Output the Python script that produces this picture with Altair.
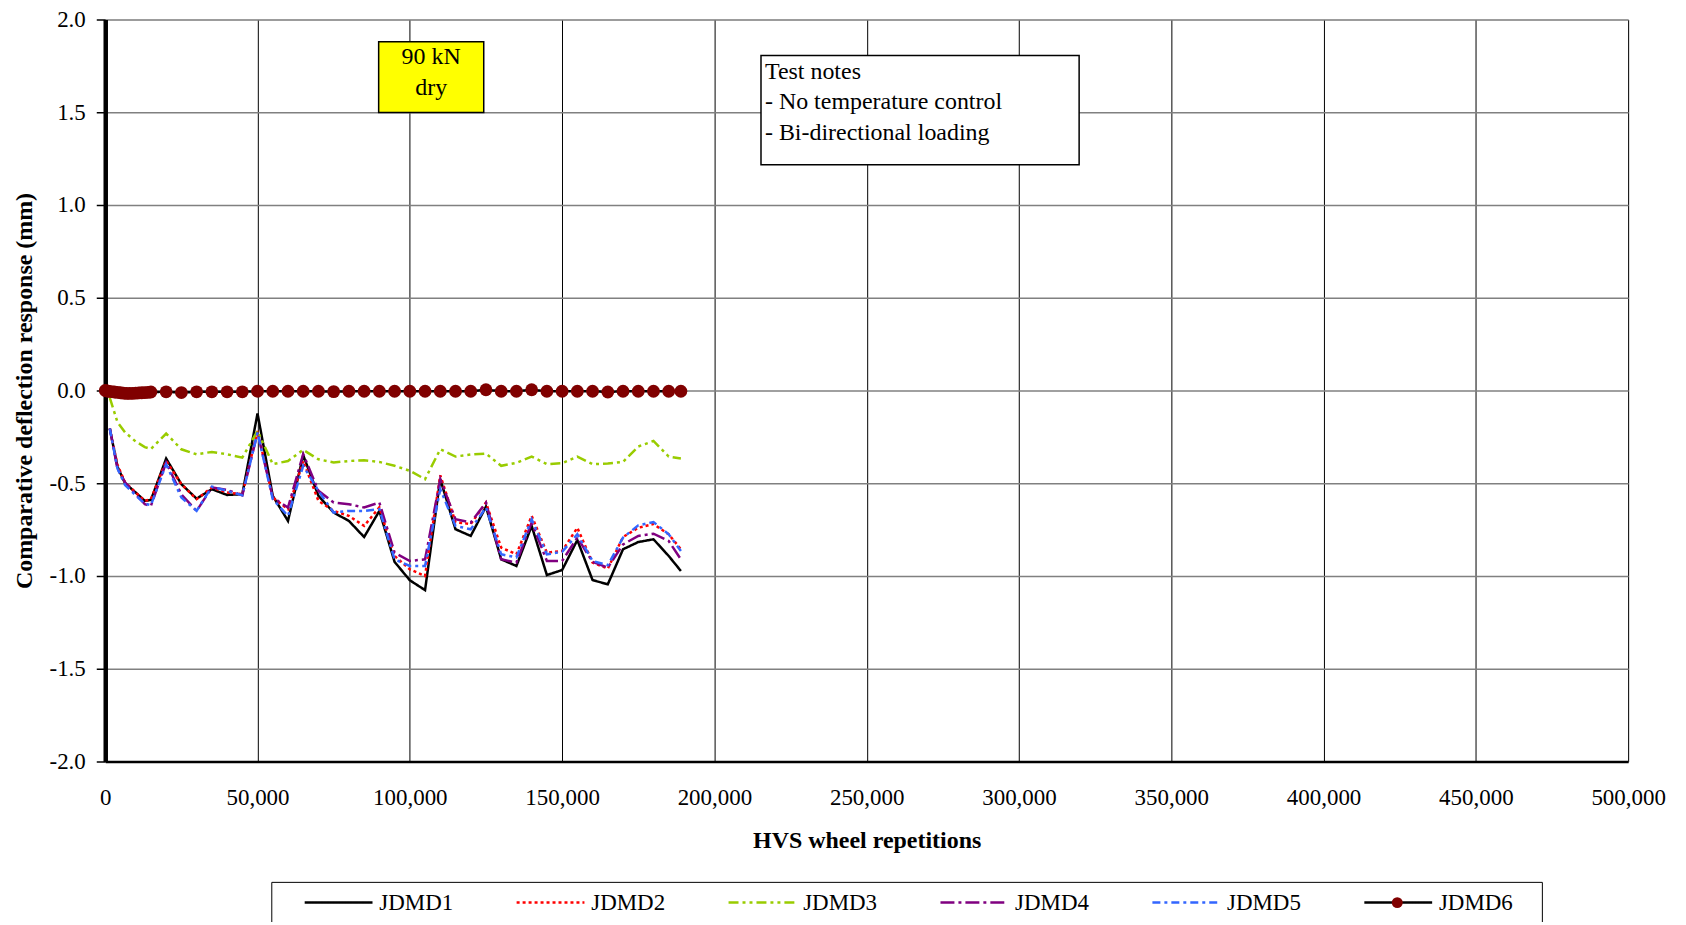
import altair as alt
import pandas as pd

# ---------------- data ----------------
series_names = ["JDMD1", "JDMD2", "JDMD3", "JDMD4", "JDMD5", "JDMD6"]

x_reps = [1500, 4000, 6500, 10000, 13000, 15000, 20000, 25000, 30000, 35000,
          40000, 45000, 50000, 55000, 60000, 65000, 70000, 75000, 80000, 85000,
          90000, 95000, 100000, 105000, 110000, 115000, 120000, 125000, 130000, 135000,
          140000, 145000, 150000, 155000, 160000, 165000, 170000, 175000, 180000, 185000,
          189000]

jdmd1 = [-0.205, -0.41, -0.50, -0.55, -0.595, -0.59, -0.367, -0.505, -0.583, -0.532,
         -0.563, -0.559, -0.124, -0.568, -0.703, -0.349, -0.568, -0.658, -0.703, -0.79,
         -0.649, -0.924, -1.023, -1.076, -0.478, -0.748, -0.784, -0.626, -0.910, -0.946,
         -0.730, -0.995, -0.968, -0.806, -1.022, -1.045, -0.856, -0.817, -0.802, -0.892,
         -0.973]

jdmd2 = [-0.205, -0.40, -0.495, -0.55, -0.595, -0.586, -0.379, -0.505, -0.586, -0.523,
         -0.55, -0.559, -0.218, -0.577, -0.64, -0.38, -0.595, -0.649, -0.676, -0.73,
         -0.63, -0.892, -0.964, -1.0, -0.457, -0.71, -0.72, -0.604, -0.847, -0.883,
         -0.676, -0.874, -0.865, -0.74, -0.928, -0.96, -0.79, -0.74, -0.72, -0.775,
         -0.856]

jdmd3 = [-0.04, -0.17, -0.225, -0.275, -0.305, -0.315, -0.232, -0.317, -0.344, -0.331,
         -0.344, -0.362, -0.218, -0.397, -0.38, -0.32, -0.371, -0.388, -0.38, -0.376,
         -0.385, -0.406, -0.433, -0.478, -0.317, -0.356, -0.345, -0.34, -0.406, -0.39,
         -0.356, -0.397, -0.392, -0.356, -0.397, -0.394, -0.385, -0.302, -0.272, -0.356,
         -0.367]

jdmd4 = [-0.205, -0.42, -0.495, -0.56, -0.613, -0.622, -0.388, -0.56, -0.649, -0.523,
         -0.536, -0.565, -0.227, -0.577, -0.631, -0.343, -0.541, -0.604, -0.613, -0.631,
         -0.604, -0.874, -0.919, -0.91, -0.478, -0.694, -0.712, -0.604, -0.91, -0.928,
         -0.712, -0.919, -0.919, -0.793, -0.924, -0.955, -0.83, -0.784, -0.772, -0.811,
         -0.91]

jdmd5 = [-0.205, -0.42, -0.51, -0.565, -0.61, -0.618, -0.397, -0.577, -0.649, -0.518,
         -0.541, -0.565, -0.227, -0.586, -0.676, -0.406, -0.541, -0.658, -0.649, -0.649,
         -0.64, -0.91, -0.946, -0.946, -0.532, -0.73, -0.748, -0.631, -0.883, -0.9,
         -0.694, -0.883, -0.87, -0.775, -0.919, -0.942, -0.793, -0.727, -0.709, -0.775,
         -0.865]

x_jdmd6 = [0, 500, 1000, 2000, 3000, 4000, 5000, 6000, 7000, 8000, 9000, 10000,
           11000, 12000, 13000, 14000, 15000, 20000, 25000, 30000, 35000, 40000, 45000,
           50000, 55000, 60000, 65000, 70000, 75000, 80000, 85000, 90000, 95000, 100000,
           105000, 110000, 115000, 120000, 125000, 130000, 135000, 140000, 145000, 150000,
           155000, 160000, 165000, 170000, 175000, 180000, 185000, 189000]
jdmd6 = [0.0, -0.002, -0.004, -0.006, -0.008, -0.01, -0.012, -0.014, -0.016, -0.016,
         -0.015, -0.014, -0.013, -0.012, -0.011, -0.01, -0.008, -0.007, -0.011, -0.007,
         -0.007, -0.007, -0.007, -0.004, -0.004, -0.004, -0.004, -0.004, -0.006, -0.004,
         -0.004, -0.004, -0.004, -0.004, -0.004, -0.004, -0.004, -0.004, 0.004, -0.004,
         -0.004, 0.004, -0.004, -0.004, -0.004, -0.004, -0.008, -0.004, -0.004, -0.004,
         -0.004, -0.004]

x_ticks = [0, 50000, 100000, 150000, 200000, 250000, 300000, 350000, 400000, 450000, 500000]
y_ticks = [-2.0, -1.5, -1.0, -0.5, 0.0, 0.5, 1.0, 1.5, 2.0]

# annotation boxes (data units)
load_box_x, load_box_x2 = [89770], [124270]
load_box_y, load_box_y2 = [1.880], [1.498]
notes_box_x, notes_box_x2 = [215300], [319750]
notes_box_y, notes_box_y2 = [1.806], [1.217]

load_text = ["90 kN", "dry"]
load_text_x = [107000, 107000]
load_text_y = [1.797, 1.631]

notes_text = ["Test notes", "- No temperature control", "- Bi-directional loading"]
notes_x = [216600, 216600, 216600]
notes_y = [1.717, 1.555, 1.389]

# ---------------- styling ----------------
colors = ["#000000", "#ff0000", "#99cc00", "#800080", "#3366ff", "#000000"]
dashes = [[1, 0], [3, 3], [10, 4, 3, 4, 3, 4], [14, 4, 3, 4], [8, 4, 3, 4], [1, 0]]
FONT = "Liberation Serif"

# ---------------- tables ----------------
rows = []
for name, vals in zip(series_names[:5], [jdmd1, jdmd2, jdmd3, jdmd4, jdmd5]):
    for xv, yv in zip(x_reps, vals):
        rows.append({"series": name, "x": xv, "y": yv})
for xv, yv in zip(x_jdmd6, jdmd6):
    rows.append({"series": "JDMD6", "x": xv, "y": yv})
df = pd.DataFrame(rows)

df6 = pd.DataFrame({"x": x_jdmd6, "y": jdmd6, "marker": ["JDMD6"] * len(x_jdmd6)})

load_box = pd.DataFrame({"x": load_box_x, "x2": load_box_x2, "y": load_box_y, "y2": load_box_y2})
notes_box = pd.DataFrame({"x": notes_box_x, "x2": notes_box_x2, "y": notes_box_y, "y2": notes_box_y2})
load_df = pd.DataFrame({"x": load_text_x, "y": load_text_y, "t": load_text})
notes_df = pd.DataFrame({"x": notes_x, "y": notes_y, "t": notes_text})

xscale = alt.Scale(domain=[0, 500000], nice=False, zero=False)
yscale = alt.Scale(domain=[-2, 2], nice=False)

x_axis = alt.Axis(
    values=x_ticks, labelExpr="format(datum.value, ',.0f')",
    grid=True, gridColor="#000000", gridWidth=1,
    ticks=False, domainColor="#000000", domainWidth=2.5,
    labelFont=FONT, labelFontSize=23, labelColor="#000000", labelPadding=25,
    labelFlush=False, labelOverlap=False,
    title="HVS wheel repetitions", titleFont=FONT, titleFontSize=24,
    titleFontWeight="bold", titleColor="#000000", titlePadding=19,
)
y_axis = alt.Axis(
    values=y_ticks, grid=True, gridColor="#808080", gridWidth=1.5,
    ticks=True, tickSize=9, tickColor="#000000", tickWidth=1.5,
    domainColor="#000000", domainWidth=4.5,
    labelExpr="replace(format(datum.value, '.1f'), '\u2212', '-')",
    labelFont=FONT, labelFontSize=23, labelColor="#000000", labelPadding=11,
    labelFlush=False, labelOverlap=False,
    title="Comparative deflection response (mm)", titleFont=FONT, titleFontSize=24,
    titleFontWeight="bold", titleColor="#000000", titlePadding=13,
)

leg = alt.Legend(
    orient="none", legendX=166.5, legendY=864.7, direction="horizontal",
    title="\u00a0", titleOrient="right", titlePadding=20, titleFont=FONT, titleFontSize=23,
    symbolType="M1.91,0H11.91", symbolSize=185, symbolStrokeWidth=2.5,
    labelFont=FONT, labelFontSize=23, labelColor="#000000", labelOffset=76.3,
    labelExpr="datum.label + '\u00a0\u00a0\u00a0\u00a0'",
    columnPadding=38.5, gridAlign="all", padding=9,
    strokeColor="#000000", fillColor="#ffffff",
)

lines = alt.Chart(df).mark_line(strokeWidth=2.5, strokeCap="butt").encode(
    x=alt.X("x:Q", scale=xscale, axis=x_axis),
    y=alt.Y("y:Q", scale=yscale, axis=y_axis),
    color=alt.Color("series:N", scale=alt.Scale(domain=series_names, range=colors), legend=leg),
    strokeDash=alt.StrokeDash("series:N", scale=alt.Scale(domain=series_names, range=dashes), legend=leg),
    order=alt.Order("x:Q"),
)

points = alt.Chart(df6).mark_point(filled=True, size=165, opacity=1, strokeWidth=0).encode(
    x=alt.X("x:Q", scale=xscale, axis=x_axis),
    y=alt.Y("y:Q", scale=yscale, axis=y_axis),
    fill=alt.Fill(
        "marker:N",
        scale=alt.Scale(domain=["JDMD6"], range=["#800000"]),
        legend=alt.Legend(
            orient="none", legendX=1290, legendY=880, title=None,
            labelExpr="''", labelFontSize=1, labelOffset=0, padding=0,
            symbolType="circle", symbolSize=120, symbolStrokeWidth=0,
        ),
    ),
)

load_rect = alt.Chart(load_box).mark_rect(fill="#ffff00", stroke="#000000", strokeWidth=1.5).encode(
    x=alt.X("x:Q", scale=xscale, axis=x_axis), x2="x2:Q",
    y=alt.Y("y:Q", scale=yscale, axis=y_axis), y2="y2:Q",
)
notes_rect = alt.Chart(notes_box).mark_rect(fill="#ffffff", stroke="#000000", strokeWidth=1.5).encode(
    x=alt.X("x:Q", scale=xscale, axis=x_axis), x2="x2:Q",
    y=alt.Y("y:Q", scale=yscale, axis=y_axis), y2="y2:Q",
)

load_txt = alt.Chart(load_df).mark_text(
    font=FONT, fontSize=24, color="#000000", align="center", baseline="middle"
).encode(x=alt.X("x:Q", scale=xscale, axis=x_axis),
         y=alt.Y("y:Q", scale=yscale, axis=y_axis), text="t:N")

notes_txt = alt.Chart(notes_df).mark_text(
    font=FONT, fontSize=24, color="#000000", align="left", baseline="middle"
).encode(x=alt.X("x:Q", scale=xscale, axis=x_axis),
         y=alt.Y("y:Q", scale=yscale, axis=y_axis), text="t:N")

chart = alt.layer(lines, points, load_rect, notes_rect, load_txt, notes_txt).properties(
    width=1527, height=744,
    autosize=alt.AutoSizeParams(type="none"),
    padding={"left": 97.5, "top": 10.3, "right": 50, "bottom": 160},
).configure_view(
    stroke="#000000", strokeWidth=2
).configure(background="#ffffff")

chart.save("out.html", embed_options={"renderer": "svg", "actions": False})
